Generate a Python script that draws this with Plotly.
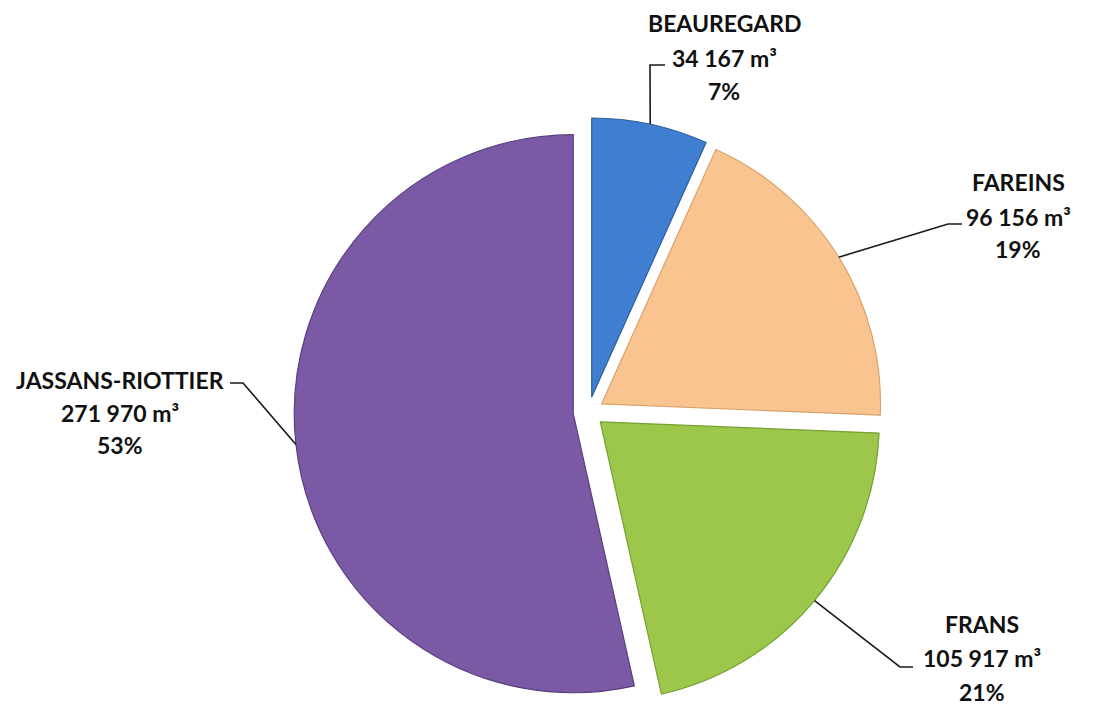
import math
import plotly.graph_objects as go

# ---- data ----
communes = ["BEAUREGARD", "FAREINS", "FRANS", "JASSANS-RIOTTIER"]
volumes = [34167, 96156, 105917, 271970]
value_labels = ["34 167 m³", "96 156 m³", "105 917 m³", "271 970 m³"]
percent_labels = ["7%", "19%", "21%", "53%"]

colors = ["#3F7ED0", "#F9C48F", "#9CC74A", "#7A59A5"]
edge_colors = ["#2C5E9E", "#D9A26C", "#76A032", "#5A3F80"]

# ---- layout geometry (pixels in the reference picture) ----
W, H = 1105, 705
OFF = 8  # page body margin
CX, CY = 588.5, 412
R = 279
PULL = 0.055
D = 2 * R * (1 + PULL)

# label text centres (x, y of three lines) and leader elbows
label_x = [724, 1018, 982, 120]
label_y = [[23, 58, 91], [182, 217, 249], [624, 658, 692], [380, 413, 445]]
elbows = [[(650, 65), (665, 65)],
          [(948, 224), (962, 224)],
          [(900, 667), (913, 667)],
          [(243, 383), (230, 383)]]

def px(x):
    return (x - OFF) / W

def py(y):
    return 1 - (y - OFF) / H

fig = go.Figure(go.Pie(
    labels=communes,
    values=volumes,
    sort=False,
    direction="clockwise",
    rotation=0,
    pull=[PULL] * len(volumes),
    textinfo="none",
    hoverinfo="label+value+percent",
    marker=dict(colors=colors, line=dict(color=edge_colors, width=1.2)),
    domain=dict(x=[px(CX - D / 2), px(CX + D / 2)],
                y=[py(CY + D / 2), py(CY - D / 2)]),
    showlegend=False,
))

total = sum(volumes)
cum = 0
annotations = []
shapes = []
for i, v in enumerate(volumes):
    mid = (cum + v / 2) / total * 2 * math.pi
    cum += v
    ex = CX + R * (1 + PULL) * math.sin(mid)
    ey = CY - R * (1 + PULL) * math.cos(mid)
    pts = [(ex, ey)] + elbows[i]
    path = "M {} {}".format(px(pts[0][0]), py(pts[0][1]))
    for (x, y) in pts[1:]:
        path += " L {} {}".format(px(x), py(y))
    shapes.append(dict(type="path", path=path, xref="paper", yref="paper",
                       line=dict(color="#1a1a1a", width=1.6)))
    texts = [communes[i], value_labels[i], percent_labels[i]]
    for t, yy in zip(texts, label_y[i]):
        annotations.append(dict(
            x=px(label_x[i]), y=py(yy), xref="paper", yref="paper",
            text="<b>{}</b>".format(t), showarrow=False,
            xanchor="center", yanchor="middle",
            font=dict(family="Lato", size=23, color="#111111"),
        ))

fig.update_layout(
    width=W, height=H,
    margin=dict(l=0, r=0, t=0, b=0),
    paper_bgcolor="white",
    plot_bgcolor="white",
    annotations=annotations,
    shapes=shapes,
)

fig.write_html("out.html")
